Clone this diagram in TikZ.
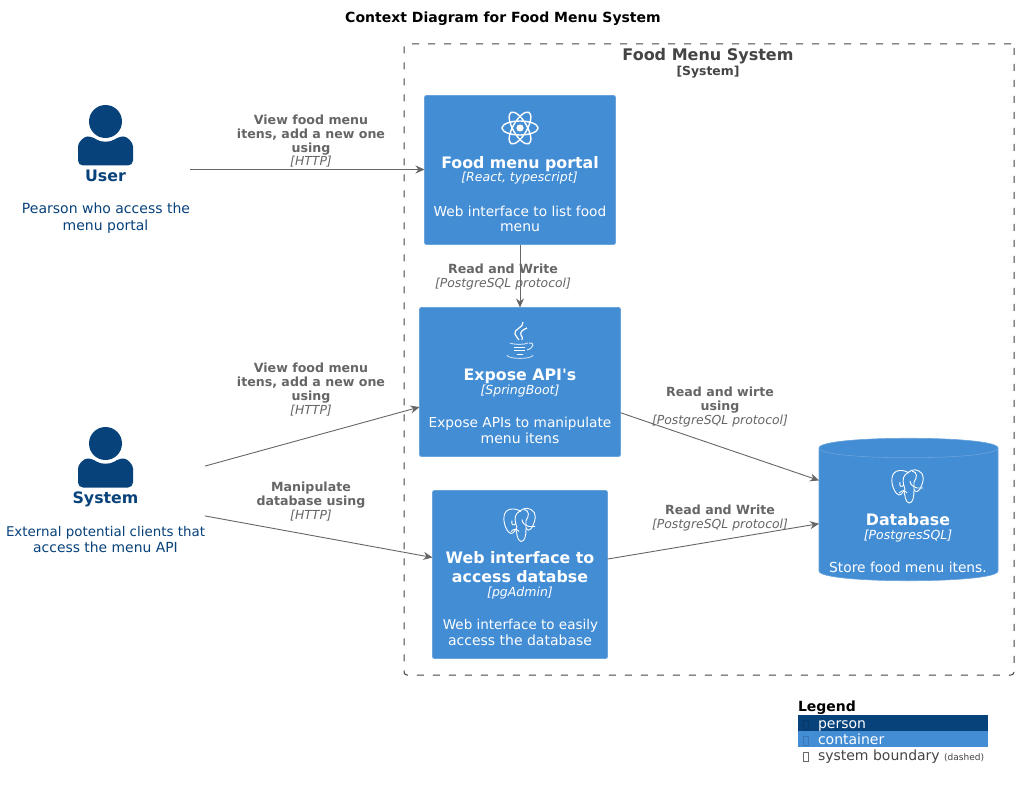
\documentclass[tikz,border=0pt]{standalone}
\usepackage{fontspec}
\setmainfont{DejaVu Sans}
\usetikzlibrary{arrows.meta}
\definecolor{personc}{HTML}{08427B}
\definecolor{contc}{HTML}{438DD5}
\definecolor{contl}{HTML}{6AA3DC}
\definecolor{edgec}{HTML}{666666}
\definecolor{boundc}{HTML}{444444}
\newcommand{\fsz}[1]{\fontsize{#1}{#1}\selectfont}
\tikzset{
  x=1pt,y=-1pt,
  txt/.style={inner sep=0pt,outer sep=0pt,anchor=base,text height=0pt,text depth=0pt},
  wname/.style={txt,text=white,font=\fsz{15.8}\bfseries},
  wtech/.style={txt,text=white,font=\fsz{12.5}\itshape},
  wdesc/.style={txt,text=white,font=\fsz{13.7}},
  pname/.style={txt,text=personc,font=\fsz{15.8}\bfseries},
  pdesc/.style={txt,text=personc,font=\fsz{14}},
  elab/.style={txt,text=edgec,font=\fsz{12.6}\bfseries},
  etech/.style={txt,text=edgec,font=\fsz{12.4}\itshape},
  box/.style={draw=contl,fill=contc,line width=.8pt,rounded corners=2pt,inner sep=0pt,outer sep=0pt},
  ghost/.style={inner sep=0pt,outer sep=0pt},
  conn/.style={draw=edgec,line width=.9pt,-{Stealth[length=9pt,width=8pt]}},
  icon/.style={draw=white,line width=1pt,fill=none},
  personicon/.pic={
    \fill[personc] (0,0) circle[radius=16.5];
    \fill[personc,rounded corners=5pt] (-27.5,44) -- (27.5,44) -- (27.5,30) .. controls (27.5,21) and (22,15) .. (13,15) .. controls (5,21) and (-5,21) .. (-13,15) .. controls (-22,15) and (-27.5,21) .. (-27.5,30) -- cycle;
  },
  atomicon/.pic={
    \fill[white] (0,0) circle[radius=3.6];
    \draw[icon,line width=1.4pt] (0,0) ellipse[x radius=18,y radius=7];
    \draw[icon,line width=1.4pt,rotate=60] (0,0) ellipse[x radius=18,y radius=7];
    \draw[icon,line width=1.4pt,rotate=-60] (0,0) ellipse[x radius=18,y radius=7];
  },
  javaicon/.pic={
    \draw[icon,line width=1.2pt] (3,-18) .. controls (4,-12) and (-7,-11) .. (-5,-6) .. controls (-4,-3) and (-2,-2) .. (-1,0);
    \draw[icon,line width=1.2pt] (7,-12) .. controls (2,-10) and (0,-8) .. (1,-5) .. controls (2,-3) and (3,-2) .. (2,0);
    \draw[white!70!contc,line width=1pt] (-10,3.3) .. controls (-4,4.8) and (4,4.8) .. (8,3);
    \draw[white!85!contc,line width=.9pt] (9,3) .. controls (15,2) and (14,8) .. (7,10);
    \draw[white,line width=1pt] (-6,7.3) -- (5,7.3);
    \draw[white,line width=1pt] (-6,10.7) -- (5,10.7);
    \draw[white,line width=1pt] (-3,14.3) -- (3,14.3);
    \draw[white!70!contc,line width=.9pt] (-13,15) .. controls (-13,19.5) and (13,19.5) .. (13,15);
  },
  pgicon/.pic={
    \draw[icon,line width=.9pt] (1,-13) .. controls (-5,-17) and (-15,-17) .. (-16,-8) .. controls (-17,0) and (-12,9) .. (-9,9) .. controls (-6,9) and (-5,5) .. (-3,3);
    \draw[icon,line width=.9pt] (-3,3) .. controls (-5,-2) and (-6,-8) .. (-3,-11) .. controls (1,-15) and (6,-18) .. (11,-15) .. controls (17,-12) and (16,-5) .. (12,3) .. controls (9,7) and (7,6) .. (6,3);
    \draw[icon,line width=.9pt] (-4,5) .. controls (-3,9) and (-3,16) .. (1,17) .. controls (5,17) and (6,11) .. (6,4);
    \draw[icon,line width=.9pt] (-8,-4) .. controls (-9,0) and (-7,2) .. (-4,-1);
    \draw[icon,line width=.9pt] (2,-5) .. controls (2,-1) and (6,1) .. (9,2) -- (15,2);
    \draw[icon,line width=.9pt] (-9,7) .. controls (-6,4) and (-3,4) .. (-1,7);
    \draw[icon,line width=.9pt] (4,-15) .. controls (10,-14) and (9,-8) .. (6,-4) -- (6,3);
  },
}
\begin{document}
\begin{tikzpicture}
\path[use as bounding box,fill=white] (0,0) rectangle (1018,789);

% title and boundary
\node[txt,font=\fsz{14}\bfseries] (title) at (503,23) {Context Diagram for Food Menu System};
\node[ghost,draw=boundc,dash pattern=on 7pt off 9pt,line width=1pt,rounded corners=3pt,minimum width=610pt,minimum height=631pt] (bound) at (709,359.5) {};
\node[txt,text=boundc,font=\fsz{16}\bfseries] (boundname) at (708,61) {Food Menu System};
\node[txt,text=boundc,font=\fsz{12.4}\bfseries] (boundtype) at (708,76) {[System]};

% persons
\node[ghost,minimum width=169pt,minimum height=138pt] (user) at (105.5,169.5) {};
\node[ghost,minimum width=200pt,minimum height=130pt] (sys) at (105,491) {};
\pic at (105.5,121.5) {personicon};
\pic at (105.5,443.5) {personicon};
\node[pname] (un) at (105.5,181.5) {User};
\node[pdesc] (ud1) at (106,214) {Pearson who access the};
\node[pdesc] (ud2) at (105.5,230) {menu portal};
\node[pname] (sn) at (105.5,503.5) {System};
\node[pdesc,font=\fsz{13.4}] (sd1) at (105.5,536) {External potential clients that};
\node[pdesc,font=\fsz{13.9}] (sd2) at (105.5,552) {access the menu API};

% containers
\node[box,minimum width=191pt,minimum height=149pt] (portal) at (520,170) {};
\pic at (520,128) {atomicon};
\node[wname] (p1) at (520,168) {Food menu portal};
\node[wtech] (p2) at (519.5,182) {[React, typescript]};
\node[wdesc] (p3) at (520,216) {Web interface to list food};
\node[wdesc,font=\fsz{14}] (p4) at (520,231) {menu};

\node[box,minimum width=201pt,minimum height=149pt] (api) at (520,382) {};
\pic at (520,340) {javaicon};
\node[wname] (a1) at (520,380) {Expose API\textquotesingle s};
\node[wtech] (a2) at (520,394) {[SpringBoot]};
\node[wdesc] (a3) at (520,427) {Expose APIs to manipulate};
\node[wdesc,font=\fsz{14}] (a4) at (520,443) {menu itens};

\node[box,minimum width=175pt,minimum height=168pt] (web) at (520,574.5) {};
\pic at (520,524.5) {pgicon};
\node[wname] (w1) at (520,563) {Web interface to};
\node[wname] (w2) at (520,582) {access databse};
\node[wtech] (w3) at (520,596) {[pgAdmin]};
\node[wdesc,font=\fsz{13.5}] (w4) at (520.5,629) {Web interface to easily};
\node[wdesc,font=\fsz{14}] (w5) at (520,645) {access the database};

% database
\draw[draw=contl,fill=contc,line width=.6pt] (819,448) .. controls (819,435) and (998,435) .. (998,448) -- (998,571) .. controls (998,584) and (819,584) .. (819,571) -- cycle;
\draw[draw=contl,line width=.6pt] (819,448) .. controls (819,461) and (998,461) .. (998,448);
\node[ghost,minimum width=179pt,minimum height=143pt] (db) at (908.5,509.5) {};
\pic at (908,486) {pgicon};
\node[wname] (d1) at (908,525) {Database};
\node[wtech] (d2) at (908,539) {[PostgresSQL]};
\node[wdesc,font=\fsz{13.8}] (d3) at (908,572) {Store food menu itens.};

% connectors
\draw[conn] (user.east) -- (user.east -| portal.west);
\draw[conn] (portal.south) -- (api.north);
\draw[conn] (sys.14.6) -- (api.194.7);
\draw[conn] (sys.-14) -- (web.169.4);
\draw[conn] (api.-17.8) -- (db.162.6);
\draw[conn] (web.10) -- (db.189.5);

% connector labels
\node[elab] (e1a) at (311,124.5) {View food menu};
\node[elab] (e1b) at (311,138.5) {itens, add a new one};
\node[elab] (e1c) at (311,152.5) {using};
\node[etech] (e1d) at (311,166) {[HTTP]};
\node[elab] (e2a) at (503,273) {Read and Write};
\node[etech] (e2b) at (503,287) {[PostgreSQL protocol]};
\node[elab] (e3a) at (311,372.5) {View food menu};
\node[elab] (e3b) at (311,386.5) {itens, add a new one};
\node[elab] (e3c) at (311,400.5) {using};
\node[etech] (e3d) at (311,414) {[HTTP]};
\node[elab] (e4a) at (311,491) {Manipulate};
\node[elab] (e4b) at (311,505) {database using};
\node[etech] (e4c) at (311,519) {[HTTP]};
\node[elab] (e5a) at (720,396) {Read and wirte};
\node[elab] (e5b) at (720,410) {using};
\node[etech] (e5c) at (720,424) {[PostgreSQL protocol]};
\node[elab] (e6a) at (720,514) {Read and Write};
\node[etech] (e6b) at (720,528) {[PostgreSQL protocol]};

% legend
\node[txt,anchor=base west,font=\fsz{14}\bfseries] (lt) at (798,711) {Legend};
\node[ghost,fill=personc,minimum width=190pt,minimum height=16pt] (l1) at (893,723) {};
\node[ghost,fill=contc,minimum width=190pt,minimum height=16pt] (l2) at (893,739) {};
\draw[personc!85!black,line width=.8pt] (803.5,720) rectangle (808,729);
\draw[contc!85!black,line width=.8pt] (803.5,736) rectangle (808,745);
\draw[boundc!80!white,line width=.8pt] (803.5,752) rectangle (808,761);
\node[txt,anchor=base west,text=white,font=\fsz{14}] (lp) at (818,728) {person};
\node[txt,anchor=base west,text=white,font=\fsz{14}] (lc) at (818,744) {container};
\node[txt,anchor=base west,text=boundc,font=\fsz{14}] (lb) at (818,760) {system boundary {\fsz{9}(dashed)}};
\end{tikzpicture}
\end{document}
